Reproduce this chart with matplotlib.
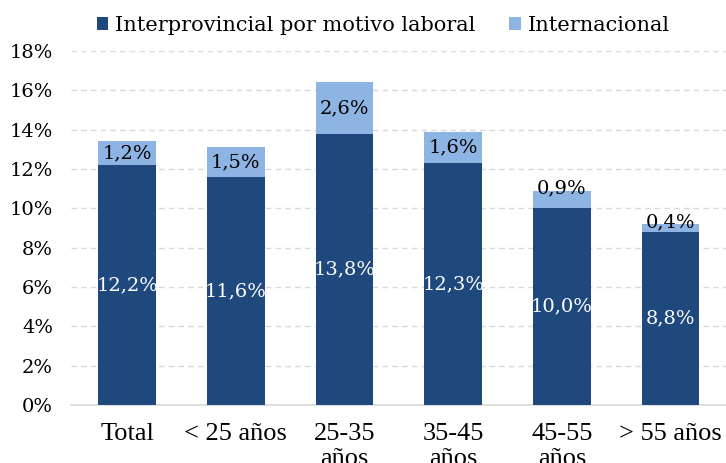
import matplotlib
matplotlib.use("Agg")
import matplotlib.pyplot as plt
import numpy as np

categorias = ["Total", "< 25 años", "25-35\naños", "35-45\naños", "45-55\naños", "> 55 años"]
interprovincial = [12.2, 11.6, 13.8, 12.3, 10.0, 8.8]
internacional = [1.2, 1.5, 2.6, 1.6, 0.9, 0.4]

azul_osc = "#1F497D"
azul_cla = "#8DB4E2"

fig = plt.figure(figsize=(7.26, 4.63), dpi=100)
ax = fig.add_axes([0.098, 0.125, 0.902, 0.765])

x = np.arange(len(categorias))
w = 0.53
ax.bar(x, interprovincial, w, color=azul_osc, label="Interprovincial por motivo laboral", zorder=3)
ax.bar(x, internacional, w, bottom=interprovincial, color=azul_cla, label="Internacional", zorder=3)

lab_font = dict(family="DejaVu Serif", fontsize=14)
for xi, a, b in zip(x, interprovincial, internacional):
    ax.text(xi, a / 2, f"{a:.1f}%".replace(".", ","), ha="center", va="center", color="white", zorder=4, **lab_font)
    yb = a + b / 2 if b >= 1 else a + b + 0.1
    ax.text(xi, yb, f"{b:.1f}%".replace(".", ","), ha="center", va="center", color="black", zorder=4, **lab_font)

ax.set_ylim(0, 18)
ax.set_xlim(-0.515, 5.51)
ax.set_yticks(np.arange(0, 19, 2))
ax.set_yticklabels([f"{v}%" for v in range(0, 19, 2)], family="DejaVu Serif", fontsize=14)
ax.set_xticks(x)
ax.set_xticklabels(categorias, family="Liberation Serif", fontsize=19, linespacing=1.15)
ax.tick_params(axis="y", length=0, pad=13)
ax.tick_params(axis="x", length=0, pad=13)

ax.grid(axis="y", color="#D9D9D9", linestyle=(0, (4, 3)), linewidth=1, zorder=0)
for s in ["top", "right", "left"]:
    ax.spines[s].set_visible(False)
ax.spines["bottom"].set_color("#D9D9D9")
ax.spines["bottom"].set_linewidth(1.2)

fig.legend(loc="upper center", bbox_to_anchor=(0.528, 1.006), ncol=2, frameon=False,
           prop=dict(family="DejaVu Serif", size=15), handlelength=0.55, handleheight=0.55,
           handletextpad=0.35, columnspacing=1.6)

fig.savefig("out.png", dpi=100)
